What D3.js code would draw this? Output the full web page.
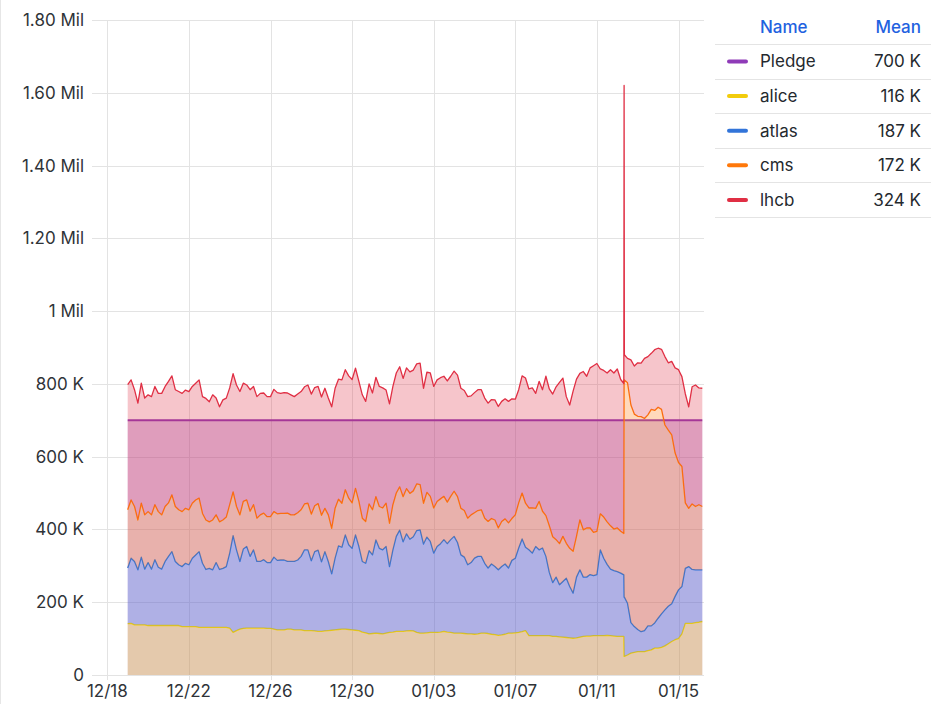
<!DOCTYPE html>
<html><head><meta charset="utf-8">
<script src="https://cdn.jsdelivr.net/npm/d3@7"></script>
<style>
html,body{margin:0;padding:0;background:#fff;}
svg{display:block;font-family:Inter,"Open Sans",sans-serif;}
</style></head><body>
<svg id="chart" width="931" height="704"></svg>
<script>
// ---------- data ----------
const seriesNames  = ["Pledge","alice","atlas","cms","lhcb"];
const seriesColors = ["#8F3BB8","#F2CC0C","#3274D9","#FF780A","#E02F44"];
const legendMeans  = ["700 K","116 K","187 K","172 K","324 K"];
const UNIT = 1000;               // values below are in thousands
const startTime = "2023-12-19T00:00:00Z";
// sample times, hours after startTime (4-hourly, with the 01/12 spike read more finely)
const sampleHours = [...d3.range(0, 584, 4), 583.7, 584, 584.3, ...d3.range(588, 680, 4)];

const alice = [141,142,138,138,138,138,136,136,136,136,
136,136,136,136,136,136,133,133,133,133,
133,131,131,131,131,131,131,131,131,131,
129,117,122,126,128,129,129,129,129,129,
129,128,128,126,124,124,124,126,126,124,
124,124,122,122,122,121,120,120,121,122,
123,124,125,126,126,125,124,123,122,118,
116,113,114,115,114,113,115,117,118,120,
120,120,121,122,121,117,115,115,116,117,
117,117,118,120,118,117,115,115,115,114,
113,113,112,113,115,115,114,112,111,109,
110,112,115,115,116,117,119,122,108,108,
108,108,108,108,108,106,106,105,104,103,
102,101,102,104,106,107,107,108,108,108,
108,109,108,107,106,106,
106,51,51,
55,60,62,
64,64,64,67,69,74,74,76,80,86,
92,97,100,113,142,142,142,144,145,147];

const atlas = [153,179,174,151,186,153,173,155,181,160,
155,176,190,203,176,167,165,174,170,188,
197,208,176,159,162,158,178,159,162,167,
206,266,222,186,218,224,197,215,183,183,
188,181,181,198,191,192,192,186,186,188,
192,202,222,222,192,218,223,191,218,190,
155,197,230,225,259,233,224,262,231,194,
191,229,216,256,234,231,238,181,226,261,
278,246,267,251,259,280,284,245,263,250,
218,236,243,252,243,255,266,249,215,210,
190,196,209,213,211,192,180,193,187,180,
188,193,179,200,205,232,255,229,236,227,
245,236,241,218,174,148,163,143,153,163,
141,124,167,185,163,162,169,165,168,236,
213,195,183,180,178,174,
169,163,163,
142,84,71,
61,55,58,68,66,69,82,92,99,103,
104,119,134,130,151,156,148,145,144,142];

const cms = [160,160,151,137,148,149,140,149,151,153,
149,151,147,156,151,151,151,151,151,151,
151,147,137,136,128,137,131,131,133,136,
133,120,119,128,131,128,124,124,119,128,
128,126,126,125,128,128,128,133,128,128,
130,128,126,128,128,126,128,128,119,128,
125,137,128,121,124,128,125,128,124,119,
115,128,124,119,115,115,119,119,124,119,
119,124,124,126,126,128,124,112,123,124,
124,124,123,119,114,119,124,126,128,128,
128,131,125,126,128,124,128,125,128,115,
124,124,124,115,119,124,126,121,115,124,
105,133,101,112,128,126,103,113,124,96,
105,115,112,137,130,135,128,119,119,99,
113,117,119,114,120,115,
114,597,597,
606,598,584,
586,591,583,580,595,584,580,562,508,484,
464,394,350,330,180,160,180,174,179,174];

const lhcb = [344,330,321,321,330,321,321,325,325,325,
334,330,334,327,321,325,325,325,325,321,
321,325,321,334,330,344,321,316,330,327,
321,325,334,339,325,316,334,325,334,334,
330,330,330,336,333,330,332,330,330,325,
326,325,322,325,330,325,322,325,330,321,
334,330,330,339,330,336,339,330,330,339,
330,330,321,328,330,330,311,328,325,330,
330,325,332,334,332,330,334,316,330,339,
334,334,333,330,333,330,330,334,330,330,
334,327,330,332,330,330,325,327,330,334,
330,330,334,329,318,311,322,344,327,330,
316,330,334,383,376,392,420,443,435,403,
394,440,432,403,435,417,440,458,461,398,
403,409,429,429,437,417,
412,809,69,
67,124,132,
147,147,165,160,154,167,162,165,188,185,
202,234,255,247,300,279,322,334,321,325];

const pledgeTimes = ["2023-12-19T00:00:00Z","2024-01-16T04:00:00Z"];
const pledge = [700,700];

const yTickValues = [0,200,400,600,800,1000,1200,1400,1600,1800];
const yTickLabels = ["0","200 K","400 K","600 K","800 K","1 Mil","1.20 Mil","1.40 Mil","1.60 Mil","1.80 Mil"];
const xTickDates  = ["2023-12-18","2023-12-22","2023-12-26","2023-12-30","2024-01-03","2024-01-07","2024-01-11","2024-01-15"];
const xTickLabels = ["12/18","12/22","12/26","12/30","01/03","01/07","01/11","01/15"];
const timeDomain  = ["2023-12-17T06:00:00Z","2024-01-16T06:00:00Z"];

// ---------- layout ----------
const plot = {left:92, right:704, top:20, bottom:675};
const FILL = 0.28;
const svg = d3.select("#chart");

const x = d3.scaleUtc().domain(timeDomain.map(d=>new Date(d))).range([plot.left, plot.right]);
const y = d3.scaleLinear().domain([0, 1800*UNIT]).range([plot.bottom, plot.top]);

// panel border
svg.append("line").attr("x1",0.5).attr("x2",0.5).attr("y1",0).attr("y2",704)
  .attr("stroke","#e6e6e6");

// grid
const grid = svg.append("g").attr("stroke","#e3e3e3").attr("stroke-width",1);
yTickValues.forEach(v=>{
  const yy = Math.round(y(v*UNIT))+0.5;
  grid.append("line").attr("x1",plot.left).attr("x2",plot.right).attr("y1",yy).attr("y2",yy);
});
xTickDates.forEach(d=>{
  const xx = Math.round(x(new Date(d+"T00:00:00Z")))+0.5;
  grid.append("line").attr("x1",xx).attr("x2",xx).attr("y1",plot.top).attr("y2",plot.bottom+5);
});

// y labels
const axisText = "#2f3338";
svg.append("g").selectAll("text").data(yTickValues).join("text")
  .attr("x",84).attr("y",d=>y(d*UNIT)).attr("dy","0.35em")
  .attr("text-anchor","end").attr("font-size",17).attr("fill",axisText)
  .text((d,i)=>yTickLabels[i]);
// x labels
svg.append("g").selectAll("text").data(xTickDates).join("text")
  .attr("x",d=>x(new Date(d+"T00:00:00Z"))).attr("y",697)
  .attr("text-anchor","middle").attr("font-size",17).attr("fill",axisText)
  .text((d,i)=>xTickLabels[i]);

// series data
const t0 = new Date(startTime);
const rows = sampleHours.map((h,i)=>({
  time: new Date(t0.getTime() + h*3600*1000),
  alice: alice[i]*UNIT, atlas: atlas[i]*UNIT, cms: cms[i]*UNIT, lhcb: lhcb[i]*UNIT
}));
const stacked = d3.stack().keys(["alice","atlas","cms","lhcb"])(rows);

const gSeries = svg.append("g");

// Pledge (not stacked)
const pledgeRows = pledgeTimes.map((t,i)=>({time:new Date(t), v:pledge[i]*UNIT}));
gSeries.append("path").datum(pledgeRows)
  .attr("d", d3.area().x(d=>x(d.time)).y0(y(0)).y1(d=>y(d.v)))
  .attr("fill", seriesColors[0]).attr("fill-opacity", FILL);
gSeries.append("path").datum(pledgeRows)
  .attr("d", d3.line().x(d=>x(d.time)).y(d=>y(d.v)))
  .attr("fill","none").attr("stroke", seriesColors[0]).attr("stroke-width",2);

// stacked series
stacked.forEach((layer, k)=>{
  const col = seriesColors[k+1];
  gSeries.append("path").datum(layer)
    .attr("d", d3.area().x(d=>x(d.data.time)).y0(d=>y(d[0])).y1(d=>y(d[1])))
    .attr("fill", col).attr("fill-opacity", FILL);
  gSeries.append("path").datum(layer)
    .attr("d", d3.line().x(d=>x(d.data.time)).y(d=>y(d[1])))
    .attr("fill","none").attr("stroke", col).attr("stroke-width",1.3)
    .attr("stroke-linejoin","round");
});

// ---------- legend ----------
const lg = svg.append("g");
const rowH = 34.6, headY = 27, firstY = 61.5;
lg.append("text").attr("x",760).attr("y",headY).attr("dy","0.35em")
  .attr("font-size",17).attr("font-weight",500).attr("fill","#1F62E0").text("Name");
lg.append("text").attr("x",921).attr("y",headY).attr("dy","0.35em").attr("text-anchor","end")
  .attr("font-size",17).attr("font-weight",500).attr("fill","#1F62E0").text("Mean");
for (let k=0;k<=seriesNames.length;k++){
  const yy = Math.round(44 + rowH*k)+0.5;
  lg.append("line").attr("x1",715).attr("x2",931).attr("y1",yy).attr("y2",yy)
    .attr("stroke","#e4e4e4");
}
seriesNames.forEach((name,k)=>{
  const cy = firstY + rowH*k;
  lg.append("line").attr("x1",729).attr("x2",746).attr("y1",cy).attr("y2",cy)
    .attr("stroke",seriesColors[k]).attr("stroke-width",4).attr("stroke-linecap","round");
  lg.append("text").attr("x",760).attr("y",cy).attr("dy","0.35em")
    .attr("font-size",17).attr("fill","#24292e").text(name);
  lg.append("text").attr("x",921).attr("y",cy).attr("dy","0.35em").attr("text-anchor","end")
    .attr("font-size",17).attr("fill","#24292e").text(legendMeans[k]);
});
</script>
</body></html>
